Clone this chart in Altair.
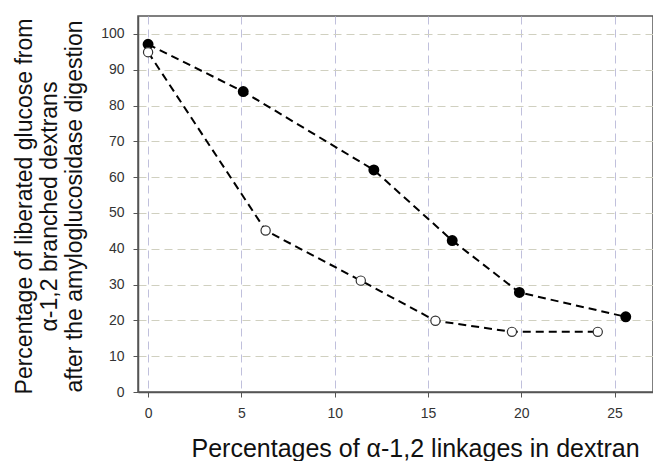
import altair as alt
import pandas as pd

# Data
filled_x = [0, 5.1, 12.1, 16.3, 19.9, 25.6]
filled_y = [97.1, 83.9, 62.0, 42.3, 27.8, 21.0]
open_x = [0, 6.3, 11.4, 15.4, 19.5, 24.1]
open_y = [94.9, 45.1, 31.1, 19.9, 16.8, 16.8]
x_ticks = [0, 5, 10, 15, 20, 25]
y_ticks = [0, 10, 20, 30, 40, 50, 60, 70, 80, 90, 100]

df_f = pd.DataFrame({"x": filled_x, "y": filled_y})
df_o = pd.DataFrame({"x": open_x, "y": open_y})

FONT = "Liberation Sans"

xs = alt.Scale(domain=[-0.54, 27.06], nice=False, zero=False)
ys = alt.Scale(domain=[0, 105], nice=False, zero=False)

xax = alt.Axis(
    values=x_ticks, title="Percentages of α-1,2 linkages in dextran",
    grid=True, gridColor="#c0c0dc", gridDash=[8, 5], gridWidth=1,
    domainColor="#555555", domainWidth=1.5, tickColor="#555555", tickSize=5,
    labelFont=FONT, labelFontSize=14, labelColor="#333333", labelPadding=9,
    labelOverlap=False,
    titleFont=FONT, titleFontSize=25, titleFontWeight="normal", titleColor="#111111",
    titleX=277, titleY=64, titleBaseline="alphabetic", titleAnchor="middle",
    titleAlign="center",
)
yax = alt.Axis(
    values=y_ticks,
    title=["Percentage of liberated glucose from", "α-1,2 branched dextrans",
           "after the amyloglucosidase digestion"],
    grid=True, gridColor="#d0d0c0", gridDash=[8, 5], gridWidth=1,
    domainColor="#555555", domainWidth=1.5, tickColor="#555555", tickSize=5,
    labelFont=FONT, labelFontSize=14, labelColor="#333333", labelPadding=9,
    labelOverlap=False,
    titleFont=FONT, titleFontSize=23, titleFontWeight="normal", titleColor="#111111",
    titleAngle=-90, titleX=-107, titleY=190, titleBaseline="alphabetic",
    titleAlign="center", titleLineHeight=25,
)

X = alt.X("x:Q", scale=xs, axis=xax)
Y = alt.Y("y:Q", scale=ys, axis=yax)

base_f = alt.Chart(df_f).encode(x=X, y=Y)
base_o = alt.Chart(df_o).encode(x=X, y=Y)

line_f = base_f.mark_line(color="black", strokeWidth=2, strokeDash=[8, 5])
line_o = base_o.mark_line(color="black", strokeWidth=2, strokeDash=[8, 5])
pts_f = base_f.mark_point(filled=True, fill="black", stroke="black", size=80, opacity=1, shape="circle")
pts_o = base_o.mark_point(filled=True, fill="white", stroke="#333333", strokeWidth=1.2, size=85, opacity=1, shape="circle")

chart = alt.layer(line_f, line_o, pts_f, pts_o).properties(
    width=515, height=376,
    padding={"left": 138, "top": 16, "right": 0, "bottom": 69},
    autosize=alt.AutoSizeParams(type="none"),
    background="white",
).configure_view(stroke="#555555", strokeWidth=1.5)

chart.save("out.html", embed_options={"renderer": "svg", "actions": False})
